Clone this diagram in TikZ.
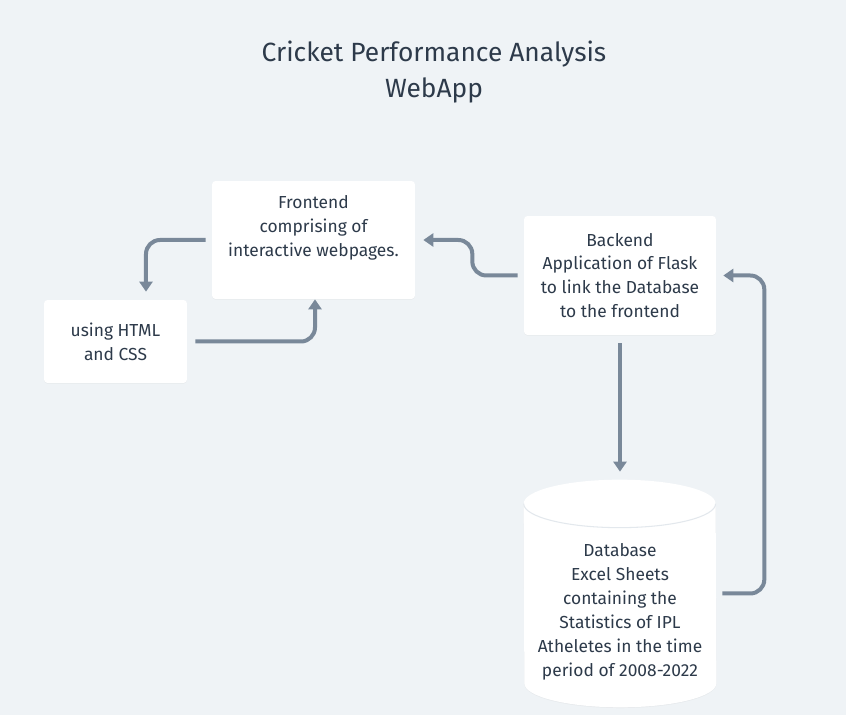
\documentclass[tikz,border=0pt]{standalone}
\usepackage{fontspec}
\setmainfont{Fira Sans}
\usepackage{tikz}
\usetikzlibrary{arrows.meta, shapes.geometric, positioning, calc, shadows}
\usepackage{xcolor}
\definecolor{canvas}{HTML}{EFF3F6}
\definecolor{linkgray}{HTML}{798899}
\definecolor{inkdark}{HTML}{2D3A4A}
\definecolor{rimgray}{HTML}{E3E8ED}
\tikzset{
  panel/.style={
    rectangle, rounded corners=2pt, draw=none, fill=white,
    inner sep=0pt, drop shadow={shadow xshift=0pt, shadow yshift=-0.4pt, opacity=0.08}
  },
  store/.style={
    rectangle, draw=none, inner sep=0pt,
    minimum width=3.84cm, minimum height=4.54cm
  },
  caption/.style={
    align=center, text=inkdark, font=\fontsize{9.9}{13.6}\selectfont
  },
  headline/.style={
    align=center, text=inkdark, font=\fontsize{15}{20.4}\selectfont
  },
  link/.style={
    -{Triangle[width=0.26cm, length=0.2cm]}, line width=0.08cm,
    draw=linkgray, rounded corners=0.28cm
  }
}

\begin{document}
\begin{tikzpicture}[x=0.02cm, y=-0.02cm]
  \fill[canvas] (0,0) rectangle (846,715);
  \useasboundingbox (0,0) rectangle (846,715);

  \node[headline] (title) at (434,72) {Cricket Performance Analysis\\WebApp};

  % boxes
  \node[panel, minimum width=4.06cm, minimum height=2.36cm] (front) at (313.5,240) {};
  \node[panel, minimum width=2.86cm, minimum height=1.66cm] (markup) at (115.5,341.5) {};
  \node[panel, minimum width=3.84cm, minimum height=2.38cm] (back) at (620,275.5) {};

  % database drum
  \node[store] (db) at (620,593.5) {};
  \fill[white, drop shadow={shadow xshift=0pt, shadow yshift=-0.4pt, opacity=0.08}]
    ([yshift=-0.48cm]db.north west) arc[start angle=180, end angle=0, x radius=1.92cm, y radius=0.48cm]
    -- ([yshift=0.48cm]db.south east) arc[start angle=0, end angle=-180, x radius=1.92cm, y radius=0.48cm]
    -- cycle;
  \draw[rimgray, line width=0.6pt] ([yshift=-0.48cm]db.north west) arc[start angle=180, end angle=360, x radius=1.92cm, y radius=0.48cm];

  % texts
  \node[caption] (frontText) at (313.5,228) {Frontend\\comprising of\\interactive webpages.};
  \node[caption] (markupText) at (markup) {using HTML\\and CSS};
  \node[caption] (backText) at (back) {Backend\\Application of Flask\\to link the Database\\to the frontend};
  \node[caption] (dbText) at (620,612) {Database\\Excel Sheets\\containing the\\Statistics of IPL\\Atheletes in the time\\period of 2008-2022};

  % connectors
  \draw[link] ([xshift=-0.12cm]front.west) -| ([xshift=0.61cm, yshift=0.16cm]markup.north);
  \draw[link] ([xshift=0.16cm]markup.east) -| ([xshift=0.03cm]front.south);
  \draw[link] ([xshift=-0.12cm]back.west) -| ([xshift=1.14cm]front.east) -- ([xshift=0.16cm]front.east);
  \draw[link] ([yshift=-0.16cm]back.south) -- ([yshift=0.16cm]db.north);
  \draw[link] ([xshift=0.12cm]db.east) -| ([xshift=0.96cm]back.east) -- ([xshift=0.14cm]back.east);
\end{tikzpicture}
\end{document}
